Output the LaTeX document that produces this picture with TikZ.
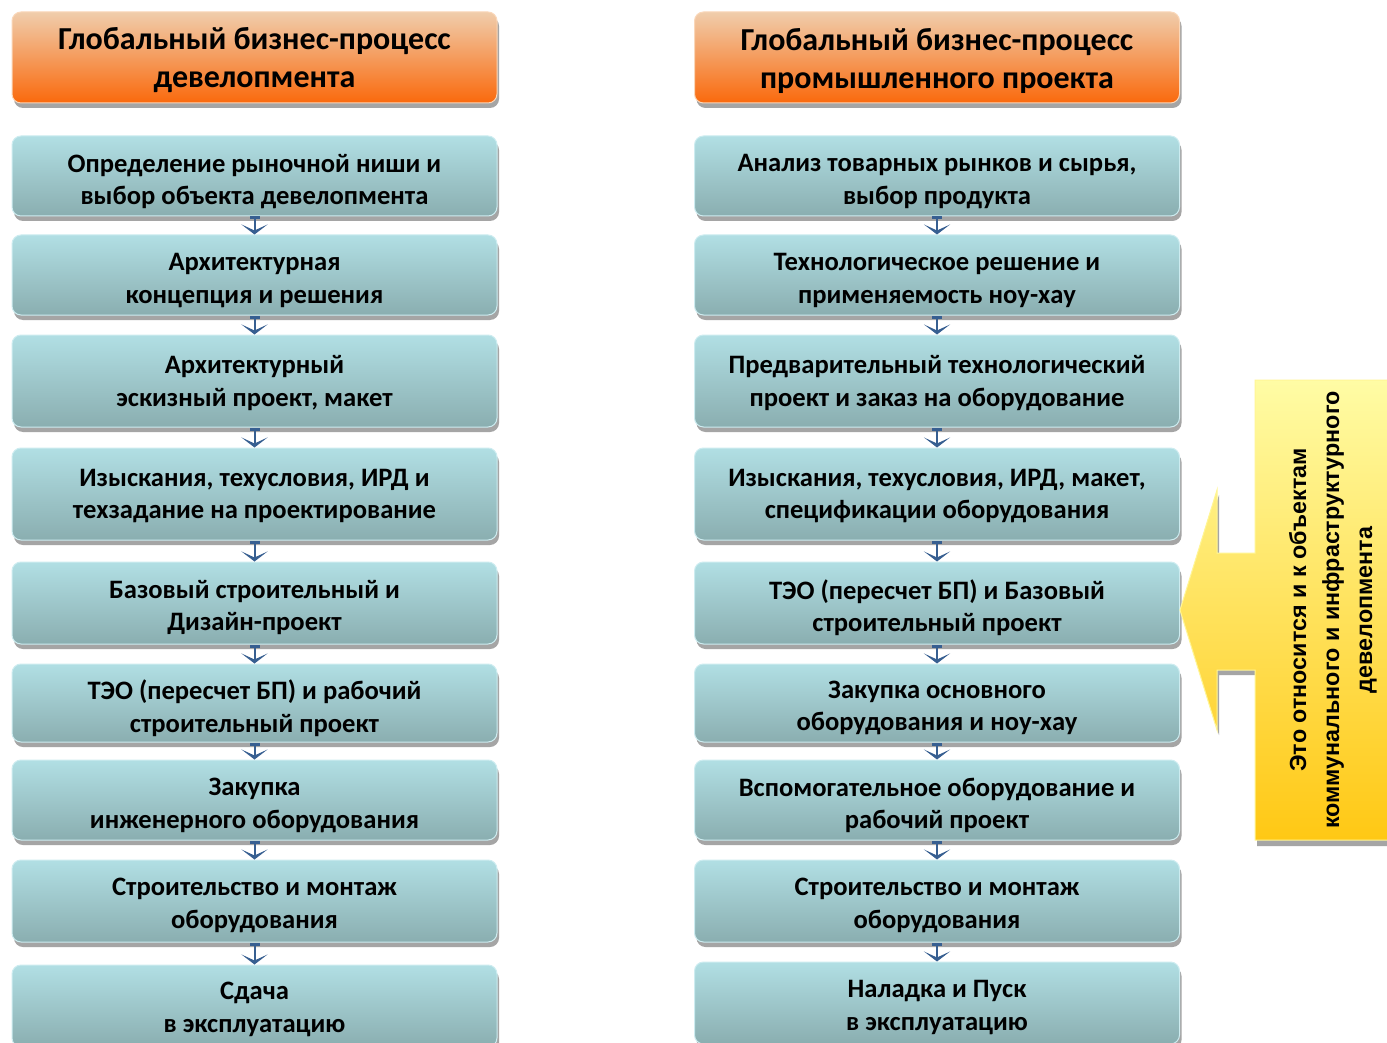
\documentclass[tikz,border=0pt]{standalone}
\usepackage{fontspec}
\setmainfont{Carlito}
\newfontfamily\arialfont{Liberation Sans}
\usetikzlibrary{shadows,arrows.meta}
\definecolor{boxtop}{RGB}{177,223,228}
\definecolor{boxbot}{RGB}{138,174,176}
\definecolor{boxedge}{RGB}{205,236,240}
\definecolor{hdtop}{RGB}{240,205,172}
\definecolor{hdmid}{RGB}{246,150,80}
\definecolor{hdbot}{RGB}{250,105,12}
\definecolor{hdedge}{RGB}{250,215,185}
\definecolor{shadowgray}{RGB}{165,165,165}
\definecolor{arrowblue}{RGB}{55,95,145}
\definecolor{yeltop}{RGB}{255,252,165}
\definecolor{yelbot}{RGB}{255,200,20}
\definecolor{yeledge}{RGB}{255,246,150}
\tikzset{
  basebox/.style={rounded corners=9pt, minimum width=485pt, line width=1pt,
    inner sep=0pt,
    drop shadow={shadow xshift=2pt, shadow yshift=-5pt, fill=shadowgray, opacity=1}},
  stepbox/.style={basebox, top color=boxtop, bottom color=boxbot, draw=boxedge},
  steptext/.style={align=center, inner sep=0pt, font=\bfseries\fontsize{26.6}{32.5}\selectfont},
  headbox/.style={basebox, top color=hdtop, middle color=hdmid, bottom color=hdbot, draw=hdedge,
    minimum height=91pt},
  headtext/.style={align=center, inner sep=0pt, font=\bfseries\fontsize{32}{38}\selectfont},
  conn/.style={draw=arrowblue, line width=2pt,
    {Rectangle[width=10pt,length=3pt]}-{Stealth[width=26pt,length=10pt,inset=6pt]}},
}
\begin{document}
\begin{tikzpicture}[x=1pt,y=-1pt]
\useasboundingbox (0,0) rectangle (1387,1043);
\clip (0,0) rectangle (1387,1043);
\fill[white] (0,0) rectangle (1387,1043);

% headers
\node[headbox] (LH) at (254.5,57.5) {};
\node[headtext] (LHt) at ([yshift=-3pt]LH.center) {Глобальный бизнес-процесс\\девелопмента};
\node[headbox] (RH) at (937,57.5) {};
\node[headtext] (RHt) at ([yshift=-3pt]RH.center) {Глобальный бизнес-процесс\\промышленного проекта};

% left column
\node[stepbox, minimum height=80pt] (L1) at (254.5,176) {};
\node[stepbox, minimum height=80pt] (L2) at (254.5,275) {};
\node[stepbox, minimum height=92pt] (L3) at (254.5,381) {};
\node[stepbox, minimum height=92pt] (L4) at (254.5,494) {};
\node[stepbox, minimum height=82pt] (L5) at (254.5,603) {};
\node[stepbox, minimum height=78pt] (L6) at (254.5,703) {};
\node[stepbox, minimum height=80pt] (L7) at (254.5,800) {};
\node[stepbox, minimum height=82pt] (L8) at (254.5,901) {};
\node[stepbox, minimum height=82pt] (L9) at (254.5,1006) {};
\node[steptext] (L1t) at ([yshift=-5.5pt]L1.center) {Определение рыночной ниши и\\выбор объекта девелопмента};
\node[steptext] (L2t) at ([yshift=-5.5pt]L2.center) {Архитектурная\\концепция и решения};
\node[steptext] (L3t) at ([yshift=-2pt]L3.center) {Архитектурный\\эскизный проект, макет};
\node[steptext] (L4t) at ([yshift=-2pt]L4.center) {Изыскания, техусловия, ИРД и\\техзадание на проектирование};
\node[steptext] (L5t) at ([yshift=-4.5pt]L5.center) {Базовый строительный и\\Дизайн-проект};
\node[steptext] (L6t) at ([yshift=-5pt]L6.center) {ТЭО (пересчет БП) и рабочий\\строительный проект};
\node[steptext] (L7t) at ([yshift=-5.5pt]L7.center) {Закупка\\инженерного оборудования};
\node[steptext] (L8t) at ([yshift=-4.5pt]L8.center) {Строительство и монтаж\\оборудования};
\node[steptext] (L9t) at ([yshift=-3.5pt]L9.center) {Сдача\\в эксплуатацию};

% right column
\node[stepbox, minimum height=80pt] (R1) at (937,176) {};
\node[stepbox, minimum height=80pt] (R2) at (937,275) {};
\node[stepbox, minimum height=92pt] (R3) at (937,381) {};
\node[stepbox, minimum height=92pt] (R4) at (937,494) {};
\node[stepbox, minimum height=82pt] (R5) at (937,603) {};
\node[stepbox, minimum height=78pt] (R6) at (937,703) {};
\node[stepbox, minimum height=80pt] (R7) at (937,800) {};
\node[stepbox, minimum height=82pt] (R8) at (937,901) {};
\node[stepbox, minimum height=82pt] (R9) at (937,1003) {};
\node[steptext] (R1t) at ([yshift=-5.5pt]R1.center) {Анализ товарных рынков и сырья,\\выбор продукта};
\node[steptext] (R2t) at ([yshift=-5.5pt]R2.center) {Технологическое решение и\\применяемость ноу-хау};
\node[steptext] (R3t) at ([yshift=-2pt]R3.center) {Предварительный технологический\\проект и заказ на оборудование};
\node[steptext] (R4t) at ([yshift=-2pt]R4.center) {Изыскания, техусловия, ИРД, макет,\\спецификации оборудования};
\node[steptext] (R5t) at ([yshift=-4.5pt]R5.center) {ТЭО (пересчет БП) и Базовый\\строительный проект};
\node[steptext] (R6t) at ([yshift=-5pt]R6.center) {Закупка основного\\оборудования и ноу-хау};
\node[steptext] (R7t) at ([yshift=-5.5pt]R7.center) {Вспомогательное оборудование и\\рабочий проект};
\node[steptext] (R8t) at ([yshift=-4.5pt]R8.center) {Строительство и монтаж\\оборудования};
\node[steptext] (R9t) at ([yshift=-4.5pt]R9.center) {Наладка и Пуск\\в эксплуатацию};

% connectors
\foreach \a/\b in {1/2,2/3,3/4,4/5,5/6,6/7,7/8,8/9}{
  \draw[conn] (L\a.south) -- (L\b.north);
  \draw[conn] (R\a.south) -- (R\b.north);
}

% yellow callout arrow
\fill[shadowgray] (1257,385) -- (1257,558) -- (1219,558) -- (1219,495) -- (1182,615)
  -- (1219,735) -- (1219,675) -- (1257,675) -- (1257,846) -- (1390,846) -- (1390,385) -- cycle;
\path[top color=yeltop, bottom color=yelbot, draw=yeledge, line width=1pt]
  (1255,380) -- (1255,553) -- (1217,553) -- (1217,490) -- (1180,610)
  -- (1217,730) -- (1217,670) -- (1255,670) -- (1255,840) -- (1389,840) -- (1389,380) -- cycle;
\node[rotate=90, align=center, font=\arialfont\bfseries\fontsize{23.3}{33}\selectfont] (note) at (1333,610)
  {Это относится и к объектам\\коммунального и инфраструктурного\\девелопмента};
\end{tikzpicture}
\end{document}
